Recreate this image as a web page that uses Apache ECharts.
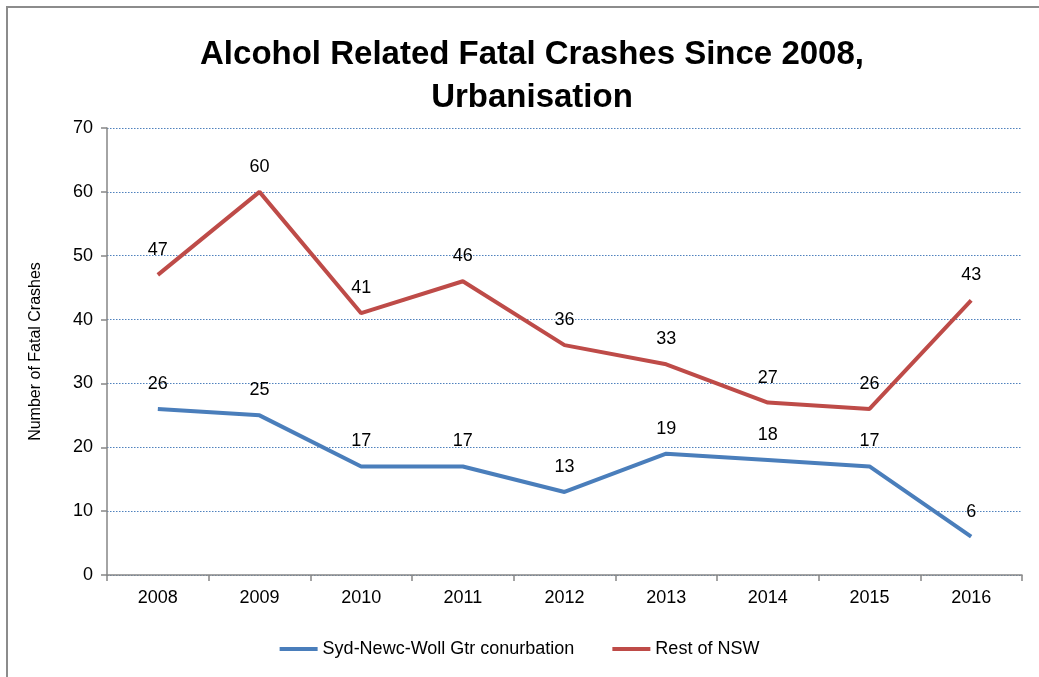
<!DOCTYPE html>
<html>
<head>
<meta charset="utf-8">
<script src="https://cdn.jsdelivr.net/npm/echarts@6/dist/echarts.min.js"></script>
<style>
  html, body { margin: 0; padding: 0; background: #fff; }
  #chart { width: 1039px; height: 677px; }
</style>
</head>
<body>
<div id="chart"></div>
<script>
const years = ["2008", "2009", "2010", "2011", "2012", "2013", "2014", "2015", "2016"];
const sydNewcWoll = [26, 25, 17, 17, 13, 19, 18, 17, 6];
const restOfNsw = [47, 60, 41, 46, 36, 33, 27, 26, 43];

const chart = echarts.init(document.getElementById("chart"));
const font = "'Liberation Sans', 'DejaVu Sans', sans-serif";

const labelStyle = {
  show: true,
  position: "top",
  distance: 16,
  color: "#000",
  fontSize: 18,
  fontFamily: font,
};

chart.setOption({
  animation: false,
  graphic: [
    {
      type: "rect",
      shape: { x: 7, y: 7, width: 1100, height: 1000 },
      style: { fill: "none", stroke: "#8c8c8c", lineWidth: 2 },
    },
  ],
  title: {
    text: "Alcohol Related Fatal Crashes Since 2008,\nUrbanisation",
    left: 527,
    textAlign: "center",
    top: 28,
    textStyle: {
      fontFamily: font,
      fontWeight: "bold",
      fontSize: 33,
      lineHeight: 43,
      color: "#000",
    },
  },
  legend: {
    bottom: 14,
    left: "center",
    icon: "rect",
    itemWidth: 38,
    itemHeight: 4,
    itemGap: 38,
    textStyle: { fontFamily: font, fontSize: 18, color: "#000" },
    data: ["Syd-Newc-Woll Gtr conurbation", "Rest of NSW"],
  },
  grid: { left: 107, right: 17, top: 128, bottom: 102 },
  xAxis: {
    type: "category",
    data: years,
    boundaryGap: true,
    axisLine: { lineStyle: { color: "#868686", width: 1.5 } },
    axisTick: { show: true, length: 6, lineStyle: { color: "#868686", width: 1.5 } },
    axisLabel: { color: "#000", fontSize: 18, fontFamily: font, margin: 14 },
  },
  yAxis: {
    type: "value",
    min: 0,
    max: 70,
    interval: 10,
    name: "Number of Fatal Crashes",
    nameLocation: "middle",
    nameGap: 63,
    nameTextStyle: { color: "#000", fontSize: 16, fontFamily: font },
    axisLine: { show: true, lineStyle: { color: "#868686", width: 1.5 } },
    axisTick: { show: true, length: 6, lineStyle: { color: "#868686", width: 1.5 } },
    axisLabel: { color: "#000", fontSize: 18, fontFamily: font, margin: 14 },
    splitLine: { lineStyle: { color: "#4f81bd", type: [1.5, 1.5], width: 1.2 } },
  },
  series: [
    {
      name: "Syd-Newc-Woll Gtr conurbation",
      type: "line",
      data: sydNewcWoll,
      symbol: "circle",
      symbolSize: 0,
      showSymbol: true,
      color: "#4a7ebb",
      lineStyle: { width: 4, color: "#4a7ebb" },
      label: labelStyle,
    },
    {
      name: "Rest of NSW",
      type: "line",
      data: restOfNsw,
      symbol: "circle",
      symbolSize: 0,
      showSymbol: true,
      color: "#be4b48",
      lineStyle: { width: 4, color: "#be4b48" },
      label: labelStyle,
    },
  ],
});
</script>
</body>
</html>
